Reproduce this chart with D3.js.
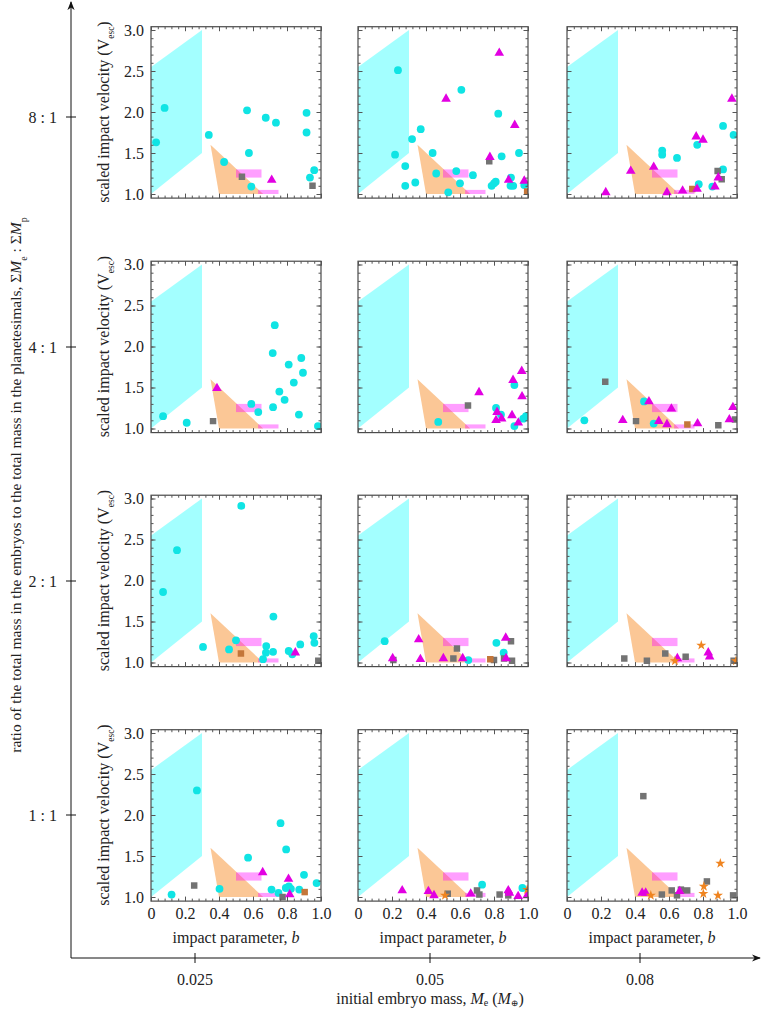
<!DOCTYPE html>
<html>
<head>
<meta charset="utf-8">
<script src="https://cdn.jsdelivr.net/npm/d3@7"></script>
<style>
body { margin: 0; background: #fff; }
text { font-family: "Liberation Serif", "DejaVu Serif", serif; fill: #222; }
</style>
</head>
<body>
<svg id="chart" width="762" height="1011"></svg>
<script>
// categories
let ratios = [8, 4, 2, 1];
let ratioLabels = ["8 : 1", "4 : 1", "2 : 1", "1 : 1"];
let masses = [0.025, 0.05, 0.08];
let massLabels = ["0.025", "0.05", "0.08"];

// tick values inside each panel
let bTicks = [0, 0.2, 0.4, 0.6, 0.8, 1.0];
let bMinor = d3.range(0, 1.001, 0.04);
let vTicks = [1.0, 1.5, 2.0, 2.5, 3.0];
let vMinor = d3.range(1.0, 3.001, 0.1);

// regimes (b, v) drawn in every panel
let cyanRegion = [[0, 1.0], [0, 2.55], [0.3, 3.0], [0.3, 1.5]];
let orangeRegion = [[0.35, 1.6], [0.4, 1.0], [0.66, 1.0]];
let pinkBoxes = [[0.5, 0.65, 1.2, 1.3], [0.63, 0.75, 1.0, 1.05]];

// collisions: [ratio, embryo mass, b, v]
let cyanHits = [
    [8,0.025,0.03,1.63],[8,0.025,0.08,2.05],[8,0.025,0.34,1.72],[8,0.025,0.43,1.39],[8,0.025,0.565,2.02],
    [8,0.025,0.576,1.50],[8,0.025,0.675,1.93],[8,0.025,0.735,1.87],[8,0.025,0.915,1.99],[8,0.025,0.915,1.75],
    [8,0.025,0.96,1.29],[8,0.025,0.935,1.20],[8,0.025,0.59,1.09],
    [8,0.05,0.235,2.51],[8,0.05,0.608,2.27],[8,0.05,0.369,1.79],[8,0.05,0.318,1.67],[8,0.05,0.218,1.48],
    [8,0.05,0.439,1.50],[8,0.05,0.278,1.34],[8,0.05,0.46,1.25],[8,0.05,0.578,1.28],[8,0.05,0.676,1.23],
    [8,0.05,0.278,1.10],[8,0.05,0.337,1.14],[8,0.05,0.60,1.13],[8,0.05,0.531,1.02],[8,0.05,0.825,1.98],
    [8,0.05,0.845,1.46],[8,0.05,0.947,1.50],[8,0.05,0.90,1.20],[8,0.05,0.786,1.10],[8,0.05,0.80,1.13],
    [8,0.05,0.81,1.15],[8,0.05,0.897,1.10],[8,0.05,0.913,1.10],[8,0.05,0.978,1.11],
    [8,0.08,0.918,1.83],[8,0.08,0.98,1.72],[8,0.08,0.766,1.60],[8,0.08,0.56,1.53],[8,0.08,0.56,1.48],
    [8,0.08,0.647,1.44],[8,0.08,0.918,1.30],[8,0.08,0.775,1.12],[8,0.08,0.855,1.09],
    [4,0.025,0.728,2.26],[4,0.025,0.716,1.92],[4,0.025,0.884,1.86],[4,0.025,0.81,1.78],[4,0.025,0.894,1.68],
    [4,0.025,0.84,1.56],[4,0.025,0.755,1.45],[4,0.025,0.786,1.35],[4,0.025,0.59,1.30],[4,0.025,0.631,1.20],
    [4,0.025,0.718,1.26],[4,0.025,0.87,1.17],[4,0.025,0.071,1.15],[4,0.025,0.21,1.07],[4,0.025,0.982,1.03],
    [4,0.05,0.92,1.53],[4,0.05,0.812,1.25],[4,0.05,0.841,1.17],[4,0.05,0.972,1.12],[4,0.05,0.988,1.15],
    [4,0.05,0.92,1.03],[4,0.05,0.472,1.08],
    [4,0.08,0.102,1.10],[4,0.08,0.453,1.33],[4,0.08,0.51,1.06],
    [2,0.025,0.531,2.91],[2,0.025,0.153,2.37],[2,0.025,0.071,1.86],[2,0.025,0.72,1.56],[2,0.025,0.306,1.19],
    [2,0.025,0.459,1.16],[2,0.025,0.50,1.27],[2,0.025,0.678,1.20],[2,0.025,0.676,1.12],[2,0.025,0.718,1.13],
    [2,0.025,0.659,1.04],[2,0.025,0.81,1.14],[2,0.025,0.831,1.10],[2,0.025,0.878,1.22],[2,0.025,0.957,1.32],
    [2,0.025,0.961,1.24],
    [2,0.05,0.157,1.26],[2,0.05,0.649,1.03],[2,0.05,0.814,1.24],[2,0.05,0.857,1.12],
    [1,0.025,0.121,1.03],[1,0.025,0.27,2.30],[1,0.025,0.403,1.10],[1,0.025,0.571,1.48],[1,0.025,0.709,1.09],
    [1,0.025,0.75,1.05],[1,0.025,0.762,1.90],[1,0.025,0.795,1.58],[1,0.025,0.793,1.11],[1,0.025,0.811,1.13],
    [1,0.025,0.823,1.10],[1,0.025,0.872,1.09],[1,0.025,0.90,1.27],[1,0.025,0.974,1.17],
    [1,0.05,0.73,1.15],[1,0.05,0.967,1.11]
];

let greyHits = [
    [8,0.025,0.535,1.21],[8,0.025,0.95,1.10],
    [8,0.05,0.772,1.40],
    [8,0.08,0.886,1.28],[8,0.08,0.91,1.18],
    [4,0.025,0.365,1.09],
    [4,0.05,0.647,1.28],
    [4,0.08,0.225,1.57],[4,0.08,0.406,1.09],[4,0.08,0.89,1.04],[4,0.08,0.988,1.11],
    [2,0.025,0.984,1.02],
    [2,0.05,0.208,1.03],[2,0.05,0.582,1.17],[2,0.05,0.561,1.05],[2,0.05,0.80,1.03],[2,0.05,0.90,1.26],
    [2,0.05,0.859,1.05],[2,0.05,0.906,1.02],
    [2,0.08,0.337,1.05],[2,0.08,0.47,1.02],[2,0.08,0.578,1.11],[2,0.08,0.698,1.07],[2,0.08,0.98,1.02],
    [1,0.025,0.254,1.14],[1,0.025,0.774,1.00],
    [1,0.05,0.528,1.04],[1,0.05,0.70,1.08],[1,0.05,0.714,1.03],[1,0.05,0.833,1.03],[1,0.05,0.884,1.02],
    [1,0.08,0.449,2.23],[1,0.08,0.558,1.03],[1,0.08,0.616,1.08],[1,0.08,0.647,1.02],[1,0.08,0.67,1.09],
    [1,0.08,0.707,1.08],[1,0.08,0.823,1.19],[1,0.08,0.977,1.02]
];

let brownHits = [
    [8,0.05,0.995,1.03],[8,0.08,0.737,1.06],[4,0.08,0.708,1.05],
    [2,0.025,0.529,1.11],[2,0.05,0.778,1.04],[1,0.025,0.904,1.06]
];

let magentaHits = [
    [8,0.025,0.71,1.17],
    [8,0.05,0.831,2.72],[8,0.05,0.518,2.16],[8,0.05,0.922,1.84],[8,0.05,0.776,1.45],[8,0.05,0.886,1.17],
    [8,0.05,0.978,1.16],
    [8,0.08,0.97,2.16],[8,0.08,0.76,1.70],[8,0.08,0.80,1.66],[8,0.08,0.51,1.33],[8,0.08,0.375,1.28],
    [8,0.08,0.89,1.20],[8,0.08,0.87,1.09],[8,0.08,0.228,1.02],[8,0.08,0.588,1.02],[8,0.08,0.68,1.04],
    [8,0.08,0.765,1.06],
    [4,0.025,0.388,1.49],
    [4,0.05,0.963,1.70],[4,0.05,0.912,1.59],[4,0.05,0.712,1.44],[4,0.05,0.965,1.39],[4,0.05,0.818,1.20],
    [4,0.05,0.906,1.16],[4,0.05,0.845,1.12],[4,0.05,0.812,1.10],[4,0.05,0.943,1.07],
    [4,0.08,0.328,1.10],[4,0.08,0.482,1.33],[4,0.08,0.614,1.24],[4,0.08,0.54,1.09],[4,0.08,0.588,1.05],
    [4,0.08,0.768,1.06],[4,0.08,0.955,1.11],[4,0.08,0.976,1.26],
    [2,0.025,0.849,1.12],
    [2,0.05,0.357,1.28],[2,0.05,0.204,1.05],[2,0.05,0.367,1.04],[2,0.05,0.502,1.05],[2,0.05,0.616,1.05],
    [2,0.05,0.869,1.30],[2,0.05,0.871,1.05],
    [2,0.08,0.649,1.05],[2,0.08,0.831,1.12],[2,0.08,0.839,1.07],
    [1,0.025,0.657,1.30],[1,0.025,0.809,1.22],[1,0.025,0.816,1.03],
    [1,0.05,0.26,1.08],[1,0.05,0.414,1.07],[1,0.05,0.447,1.02],[1,0.05,0.663,1.04],[1,0.05,0.884,1.08],
    [1,0.05,0.891,1.05],[1,0.05,0.942,1.01],[1,0.05,0.995,1.02],
    [1,0.08,0.442,1.05],[1,0.08,0.463,1.05],[1,0.08,0.663,1.07]
];

let starHits = [
    [2,0.08,0.79,1.21],[2,0.08,0.635,1.02],[2,0.08,0.994,1.02],
    [1,0.05,0.512,1.02],[1,0.05,0.995,1.09],
    [1,0.08,0.493,1.02],[1,0.08,0.805,1.13],[1,0.08,0.802,1.04],[1,0.08,0.902,1.41],[1,0.08,0.888,1.02]
];

let svg = d3.select("#chart");

// Panel layout
let colX = [151, 358, 567];          // left edge of each column
let rowY = [30, 264.5, 498.5, 733];  // y of v = 3.0 in each row
let panelW = 170;

let x = d3.scaleLinear().domain([0, 1]).range([0, panelW]);
let y = d3.scaleLinear().domain([1, 3]).range([164, 0]);
let frameTop = y(3.04), frameBottom = y(0.95);

let fmtB = d => d === 0 ? "0" : d.toFixed(1);
let fmtV = d => d.toFixed(1);

// Outer category axes
let ratioPos = d3.scaleOrdinal().domain(ratioLabels).range([117, 347, 581, 815]);
let massPos = d3.scaleOrdinal().domain(massLabels).range([195, 430, 640]);

let axisX0 = 71, axisY0 = 958;

svg.append("defs").append("marker")
    .attr("id", "arrow")
    .attr("viewBox", "0 0 10 10")
    .attr("refX", 9).attr("refY", 5)
    .attr("markerWidth", 9).attr("markerHeight", 9)
    .attr("orient", "auto")
    .append("path")
    .attr("d", "M0,1 L10,5 L0,9 L3,5 Z")
    .attr("fill", "#111");

svg.append("line")
    .attr("x1", axisX0).attr("y1", axisY0)
    .attr("x2", axisX0).attr("y2", 2)
    .attr("stroke", "#111").attr("stroke-width", 1)
    .attr("marker-end", "url(#arrow)");
svg.append("line")
    .attr("x1", axisX0).attr("y1", axisY0)
    .attr("x2", 760).attr("y2", axisY0)
    .attr("stroke", "#111").attr("stroke-width", 1)
    .attr("marker-end", "url(#arrow)");

ratioLabels.forEach(function (r) {
    svg.append("line")
        .attr("x1", axisX0 - 5).attr("x2", axisX0 + 5)
        .attr("y1", ratioPos(r)).attr("y2", ratioPos(r))
        .attr("stroke", "#111");
    svg.append("text")
        .attr("x", 57).attr("y", ratioPos(r))
        .attr("dy", "0.35em")
        .attr("text-anchor", "end")
        .style("font-size", "16px")
        .text(r);
});

massLabels.forEach(function (m) {
    svg.append("line")
        .attr("x1", massPos(m)).attr("x2", massPos(m))
        .attr("y1", axisY0 - 5).attr("y2", axisY0 + 5)
        .attr("stroke", "#111");
    svg.append("text")
        .attr("x", massPos(m)).attr("y", 985)
        .attr("text-anchor", "middle")
        .style("font-size", "16px")
        .text(m);
});

// outer titles
let yTitle = svg.append("text")
    .attr("transform", "translate(21,485) rotate(-90)")
    .attr("text-anchor", "middle")
    .style("font-size", "15.5px");
yTitle.append("tspan").text("ratio of the total mass in the embryos to the total mass in the planetesimals, Σ");
yTitle.append("tspan").style("font-style", "italic").text("M");
yTitle.append("tspan").attr("baseline-shift", "sub").style("font-size", "10px").text("e");
yTitle.append("tspan").text(" : Σ");
yTitle.append("tspan").style("font-style", "italic").text("M");
yTitle.append("tspan").attr("baseline-shift", "sub").style("font-size", "10px").text("p");

let xTitle = svg.append("text")
    .attr("x", 430).attr("y", 1004)
    .attr("text-anchor", "middle")
    .style("font-size", "16px");
xTitle.append("tspan").text("initial embryo mass, ");
xTitle.append("tspan").style("font-style", "italic").text("M");
xTitle.append("tspan").attr("baseline-shift", "-2").style("font-size", "10px").text("e");
xTitle.append("tspan").text(" (");
xTitle.append("tspan").style("font-style", "italic").text("M");
xTitle.append("tspan").attr("baseline-shift", "-2").style("font-size", "9px").text("⊕");
xTitle.append("tspan").text(")");

// Panels
let line = d3.line().x(d => x(d[0])).y(d => y(d[1]));

ratios.forEach(function (ratio, ri) {
    masses.forEach(function (mass, ci) {
        let g = svg.append("g")
            .attr("transform", "translate(" + colX[ci] + "," + rowY[ri] + ")");

        let clipId = "clip" + ri + ci;
        g.append("clipPath").attr("id", clipId)
            .append("rect")
            .attr("x", 0).attr("y", frameTop)
            .attr("width", panelW).attr("height", frameBottom - frameTop);

        let inner = g.append("g").attr("clip-path", "url(#" + clipId + ")");

        // regimes
        inner.append("path")
            .attr("d", line(cyanRegion) + "Z")
            .attr("fill", "#00ffff").attr("fill-opacity", 0.36);
        inner.append("path")
            .attr("d", line(orangeRegion) + "Z")
            .attr("fill", "#fbc796");
        inner.selectAll(".pink")
            .data(pinkBoxes)
            .enter().append("rect")
            .attr("class", "pink")
            .attr("x", d => x(d[0]))
            .attr("width", d => x(d[1]) - x(d[0]))
            .attr("y", d => y(d[3]))
            .attr("height", d => y(d[2]) - y(d[3]))
            .attr("fill", "#ff00ff").attr("fill-opacity", 0.38);

        let here = d => d[0] === ratio && d[1] === mass;
        let place = d => "translate(" + x(d[2]) + "," + y(d[3]) + ")";

        inner.selectAll(".cyan")
            .data(cyanHits.filter(here))
            .enter().append("circle")
            .attr("class", "cyan")
            .attr("cx", d => x(d[2])).attr("cy", d => y(d[3]))
            .attr("r", 3.9)
            .attr("fill", "#10e4e4");

        inner.selectAll(".grey")
            .data(greyHits.filter(here))
            .enter().append("path")
            .attr("class", "grey")
            .attr("transform", place)
            .attr("d", d3.symbol().type(d3.symbolSquare).size(42))
            .attr("fill", "#737373");

        inner.selectAll(".brown")
            .data(brownHits.filter(here))
            .enter().append("path")
            .attr("class", "brown")
            .attr("transform", place)
            .attr("d", d3.symbol().type(d3.symbolSquare).size(42))
            .attr("fill", "#c4763a");

        inner.selectAll(".magenta")
            .data(magentaHits.filter(here))
            .enter().append("path")
            .attr("class", "magenta")
            .attr("transform", place)
            .attr("d", d3.symbol().type(d3.symbolTriangle).size(40))
            .attr("fill", "#e200e2");

        inner.selectAll(".star")
            .data(starHits.filter(here))
            .enter().append("path")
            .attr("class", "star")
            .attr("transform", place)
            .attr("d", d3.symbol().type(d3.symbolStar).size(32))
            .attr("fill", "#ef8420");

        // frame
        g.append("rect")
            .attr("x", 0).attr("y", frameTop)
            .attr("width", panelW).attr("height", frameBottom - frameTop)
            .attr("fill", "none")
            .attr("stroke", "#4a4a4a").attr("stroke-width", 1.2);

        // ticks: minor then major on all four sides, pointing inwards
        let sides = [
            [d3.axisBottom(x), "translate(0," + frameBottom + ")", bMinor, bTicks, ri === 3 ? fmtB : ""],
            [d3.axisTop(x), "translate(0," + frameTop + ")", bMinor, bTicks, ""],
            [d3.axisLeft(y), "translate(0,0)", vMinor, vTicks, ci === 0 ? fmtV : ""],
            [d3.axisRight(y), "translate(" + panelW + ",0)", vMinor, vTicks, ""]
        ];
        sides.forEach(function (s) {
            let minorG = g.append("g").attr("transform", s[1])
                .call(s[0].tickValues(s[2]).tickSize(-2.5).tickFormat(""));
            minorG.select(".domain").remove();
            minorG.selectAll("line").attr("stroke", "#555");

            let majorG = g.append("g").attr("transform", s[1])
                .call(s[0].tickValues(s[3]).tickSize(-4.5).tickPadding(7).tickFormat(s[4] === "" ? () => "" : s[4]));
            majorG.select(".domain").remove();
            majorG.selectAll("line").attr("stroke", "#555");
            majorG.selectAll("text")
                .attr("fill", "#222")
                .style("font-family", "'Liberation Serif', serif")
                .style("font-size", "16px");
        });

        if (ci === 0) {
            let vt = g.append("text")
                .attr("transform", "translate(-48," + y(2) + ") rotate(-90)")
                .attr("dy", "0.35em")
                .attr("text-anchor", "middle")
                .style("font-size", "16px");
            vt.append("tspan").text("scaled impact velocity (V");
            vt.append("tspan").attr("baseline-shift", "sub").style("font-size", "9.5px").text("esc");
            vt.append("tspan").text(")");
        }

        if (ri === 3) {
            let bt = g.append("text")
                .attr("x", panelW / 2).attr("y", frameBottom + 42)
                .attr("text-anchor", "middle")
                .style("font-size", "16px");
            bt.append("tspan").text("impact parameter, ");
            bt.append("tspan").style("font-style", "italic").text("b");
        }
    });
});
</script>
</body>
</html>
